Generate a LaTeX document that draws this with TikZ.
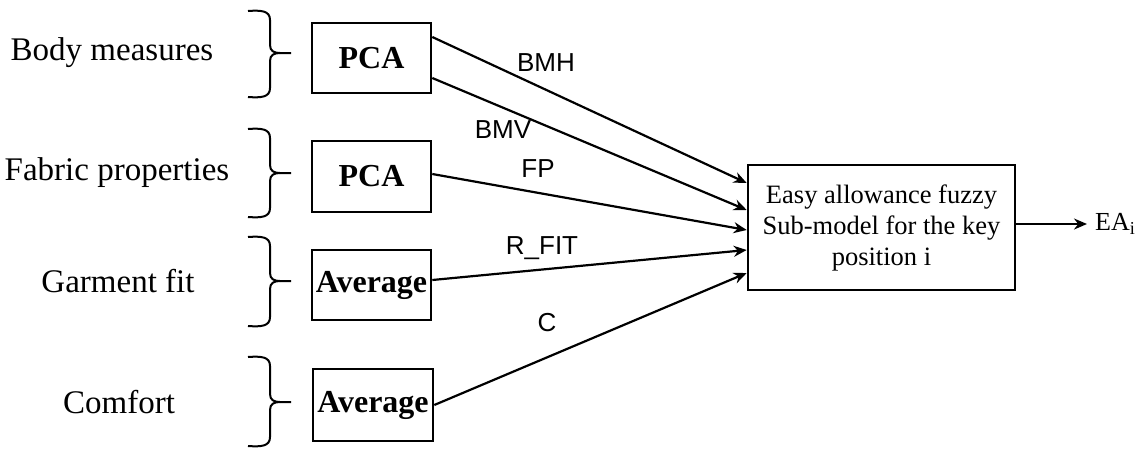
\documentclass[tikz,border=0pt]{standalone}
\usepackage{fontspec}
\setmainfont{Liberation Serif}
\newfontfamily\labelfont{Liberation Sans}
\usetikzlibrary{arrows.meta}
\begin{document}
\begin{tikzpicture}[x=1pt,y=-1pt,
  catlabel/.style={font=\fontsize{33}{38}\selectfont, anchor=center},
  procbox/.style={draw, line width=2.6pt, minimum width=119pt, minimum height=70pt,
    inner sep=0pt, font=\fontsize{32}{36}\selectfont\bfseries},
  mainbox/.style={draw, line width=2.6pt, minimum width=267pt, minimum height=125pt,
    inner sep=0pt, align=center, font=\fontsize{26.5}{31}\selectfont},
  flow/.style={line width=2.2pt, -{Stealth[length=13pt,width=11pt]}},
  flowlabel/.style={font=\labelfont\fontsize{26}{30}\selectfont, anchor=center},
  bracestroke/.style={line width=2pt}]
\useasboundingbox (0,0) rectangle (1143,448);

% curly brace: top y, bottom y, tip y
\newcommand\drawbrace[3]{%
  \draw[bracestroke] (248,#1) .. controls (262,#1-1) and (270,#1) .. (270,#1+9)
    -- (270,#3-8) .. controls (270,#3-2) and (274,#3) .. (280,#3) -- (291,#3);
  \draw[bracestroke] (248,#2) .. controls (262,#2+1) and (270,#2) .. (270,#2-9)
    -- (270,#3+8) .. controls (270,#3+2) and (274,#3) .. (280,#3);
}

% input categories
\node[catlabel] (lbm) at (112,53) {Body measures};
\node[catlabel] (lfp) at (117,173) {Fabric properties};
\node[catlabel] (lgf) at (118,281) {Garment fit};
\node[catlabel] (lco) at (119,402) {Comfort};

\drawbrace{11}{97}{53}
\drawbrace{129}{217}{173}
\drawbrace{237}{326}{281}
\drawbrace{357}{446}{402}

% processing boxes
\node[procbox] (pca1) at (371.5,58) {PCA};
\node[procbox, minimum height=71pt] (pca2) at (371.5,176.5) {PCA};
\node[procbox] (avg1) at (371.5,285) {Average};
\node[procbox, minimum width=120pt, minimum height=72pt] (avg2) at (373,405) {Average};

% fuzzy sub-model
\node[mainbox] (fuzzy) at (881.5,227.5) {Easy allowance fuzzy\\Sub-model for the key\\position i};

% connectors
\draw[flow] ([yshift=21pt]pca1.east) -- ([yshift=44.5pt]fuzzy.west);
\draw[flow] ([yshift=-20pt]pca1.east) -- ([yshift=17.5pt]fuzzy.west);
\draw[flow] ([yshift=2.5pt]pca2.east) -- ([yshift=-2.5pt]fuzzy.west);
\draw[flow] ([yshift=5pt]avg1.east) -- ([yshift=-22.5pt]fuzzy.west);
\draw[flow] (avg2.east) -- ([yshift=-45.5pt]fuzzy.west);

\node[flowlabel] (tbmh) at (546,63) {BMH};
\node[flowlabel] (tbmv) at (503,130) {BMV};
\node[flowlabel] (tfp) at (538,169) {FP};
\node[flowlabel] (trfit) at (542,248) {R\_FIT};
\node[flowlabel] (tc) at (547,323) {C};

% output
\node[anchor=west, inner sep=0pt, font=\fontsize{26}{30}\selectfont] (out) at (1095,224) {EA\textsubscript{i}};
\draw[flow] (fuzzy.east |- out.west) -- ([xshift=-8pt]out.west);
\end{tikzpicture}
\end{document}
